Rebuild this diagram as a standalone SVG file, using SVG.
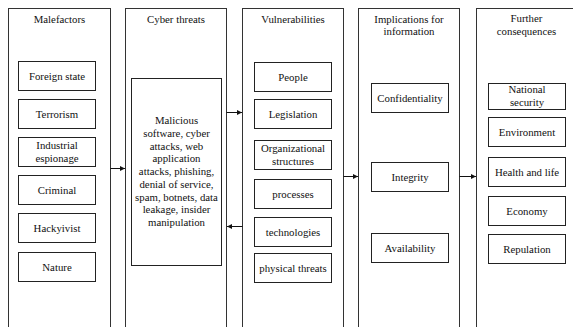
<svg xmlns="http://www.w3.org/2000/svg" width="573" height="327" viewBox="0 0 573 327" font-family="Liberation Serif, serif">
<defs>
<style>
.col{fill:none;stroke:#333;stroke-width:1}
.box{fill:#fff;stroke:#222;stroke-width:1}
text{font-family:'Liberation Serif','Times New Roman',serif;font-size:10.8px;fill:#111;text-anchor:middle}
.conn{stroke:#111;stroke-width:1;fill:none}
</style>
<marker id="ah" markerWidth="6" markerHeight="6" refX="5" refY="3" orient="auto" markerUnits="userSpaceOnUse">
<path d="M0,0.5 L5,3 L0,5.5 Z" fill="#111"/>
</marker>
</defs>
<rect width="573" height="327" fill="#fff"/>

<g id="malefactors">
<rect class="col" x="8.5" y="8.5" width="102" height="330"/>
<text x="59.5" y="22.5">Malefactors</text>
<g id="foreign-state"><rect class="box" x="18.5" y="61.5" width="77" height="29"/><text x="57" y="79.5">Foreign state</text></g>
<g id="terrorism"><rect class="box" x="18.5" y="99.5" width="77" height="29"/><text x="57" y="117.5">Terrorism</text></g>
<g id="industrial-espionage"><rect class="box" x="18.5" y="137.5" width="77" height="29"/><text x="57" y="148.5">Industrial</text><text x="57" y="162">espionage</text></g>
<g id="criminal"><rect class="box" x="18.5" y="175.5" width="77" height="29"/><text x="57" y="193.5">Criminal</text></g>
<g id="hackyivist"><rect class="box" x="18.5" y="213.5" width="77" height="29"/><text x="57" y="231.5">Hackyivist</text></g>
<g id="nature"><rect class="box" x="18.5" y="252.5" width="77" height="29"/><text x="57" y="270.5">Nature</text></g>
</g>

<g id="cyber-threats">
<rect class="col" x="125.5" y="8.5" width="101" height="330"/>
<text x="176" y="22.5">Cyber threats</text>
<g id="threat-list"><rect class="box" x="131.5" y="78.5" width="90" height="187"/>
<text x="176.5" y="124">Malicious</text>
<text x="176.5" y="136.75">software, cyber</text>
<text x="176.5" y="149.5">attacks, web</text>
<text x="176.5" y="162.25">application</text>
<text x="176.5" y="175">attacks, phishing,</text>
<text x="176.5" y="187.75">denial of service,</text>
<text x="176.5" y="200.5">spam, botnets, data</text>
<text x="176.5" y="213.25">leakage, insider</text>
<text x="176.5" y="226">manipulation</text>
</g>
</g>

<g id="vulnerabilities">
<rect class="col" x="242.5" y="8.5" width="101" height="330"/>
<text x="293" y="22.5">Vulnerabilities</text>
<g id="people"><rect class="box" x="254.5" y="62.5" width="77" height="29"/><text x="293" y="80.5">People</text></g>
<g id="legislation"><rect class="box" x="254.5" y="99.5" width="77" height="29"/><text x="293" y="117.5">Legislation</text></g>
<g id="org-structures"><rect class="box" x="254.5" y="140.5" width="77" height="29"/><text x="293" y="151.5">Organizational</text><text x="293" y="165">structures</text></g>
<g id="processes"><rect class="box" x="254.5" y="179.5" width="77" height="29"/><text x="293" y="197.5">processes</text></g>
<g id="technologies"><rect class="box" x="254.5" y="217.5" width="77" height="29"/><text x="293" y="235.5">technologies</text></g>
<g id="physical-threats"><rect class="box" x="254.5" y="253.5" width="77" height="29"/><text x="293" y="271.5">physical threats</text></g>
</g>

<g id="implications">
<rect class="col" x="358.5" y="8.5" width="101" height="330"/>
<text x="409" y="22.5">Implications for</text>
<text x="409" y="35">information</text>
<g id="confidentiality"><rect class="box" x="371.5" y="83.5" width="77" height="29"/><text x="410" y="101.5">Confidentiality</text></g>
<g id="integrity"><rect class="box" x="371.5" y="162.5" width="77" height="29"/><text x="410" y="180.5">Integrity</text></g>
<g id="availability"><rect class="box" x="371.5" y="233.5" width="77" height="29"/><text x="410" y="251.5">Availability</text></g>
</g>

<g id="further-consequences">
<rect class="col" x="476.5" y="8.5" width="101" height="330"/>
<text x="526.5" y="22">Further</text>
<text x="526.5" y="35">consequences</text>
<g id="national-security"><rect class="box" x="488.5" y="83.5" width="77" height="26"/><text x="527" y="92.5">National</text><text x="527" y="105.5">security</text></g>
<g id="environment"><rect class="box" x="488.5" y="117.5" width="77" height="29"/><text x="527" y="135.5">Environment</text></g>
<g id="health-life"><rect class="box" x="488.5" y="157.5" width="77" height="29"/><text x="527" y="175.5">Health and life</text></g>
<g id="economy"><rect class="box" x="488.5" y="196.5" width="77" height="29"/><text x="527" y="214.5">Economy</text></g>
<g id="repulation"><rect class="box" x="488.5" y="234.5" width="77" height="29"/><text x="527" y="252.5">Repulation</text></g>
</g>

<g id="connectors">
<line class="conn" x1="110.5" y1="168.5" x2="125" y2="168.5" marker-end="url(#ah)"/>
<line class="conn" x1="226.5" y1="112.5" x2="242" y2="112.5" marker-end="url(#ah)"/>
<line class="conn" x1="242.5" y1="226.5" x2="227" y2="226.5" marker-end="url(#ah)"/>
<line class="conn" x1="343.5" y1="176.5" x2="358" y2="176.5" marker-end="url(#ah)"/>
<line class="conn" x1="459.5" y1="176.5" x2="476" y2="176.5" marker-end="url(#ah)"/>
</g>
</svg>
